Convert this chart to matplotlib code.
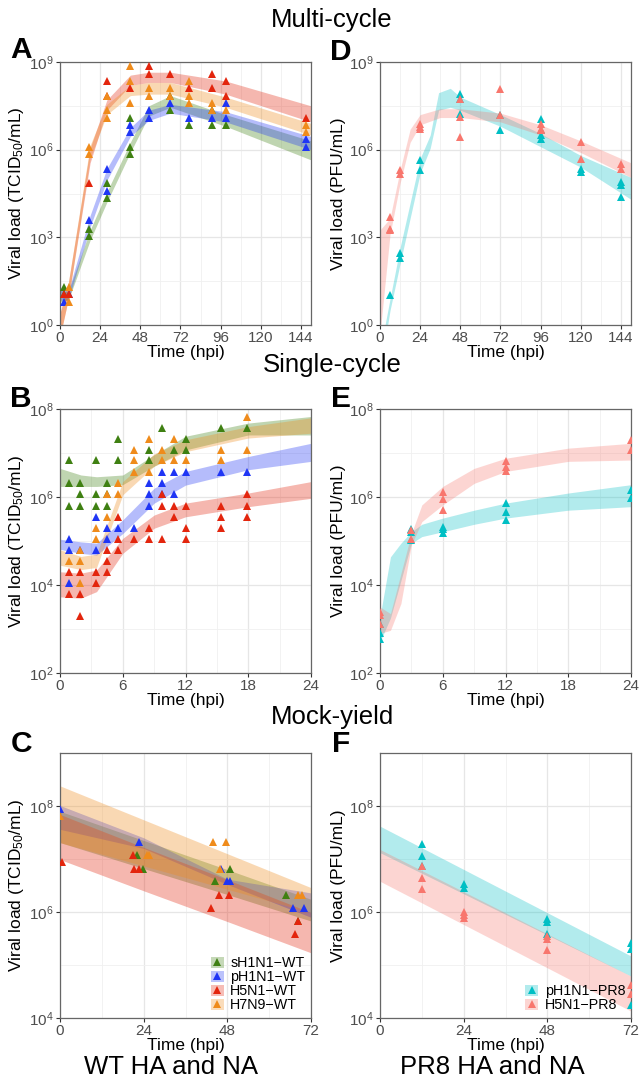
#!/usr/bin/env python3

import numpy as np
import matplotlib
matplotlib.use('Agg')
import matplotlib.pyplot as plt
from matplotlib.ticker import FixedLocator, NullFormatter
from matplotlib.patches import Patch
from matplotlib.lines import Line2D
from matplotlib.legend_handler import HandlerTuple

plt.rcParams['font.family'] = ['Liberation Sans', 'DejaVu Sans']
plt.rcParams['mathtext.fontset'] = 'custom'
plt.rcParams['mathtext.rm'] = 'Liberation Sans'
plt.rcParams['mathtext.it'] = 'Liberation Sans:italic'
plt.rcParams['mathtext.bf'] = 'Liberation Sans:bold'

# Colours (points, bands use the same with alpha).
COL = {'sH1N1': '#3f8012', 'pH1N1': '#1f35f5', 'H5N1': '#e3250d', 'H7N9': '#ef8b1b',
       'pH1N1-PR8': '#00BFC4', 'H5N1-PR8': '#F8766D'}

# ---- Panel A: multi-cycle, WT (log10 TCID50/mL) ----
a_sh1n1_t = [2.5, 2.5, 17.5, 17.5, 28, 28, 42, 42, 42, 66, 66, 77, 91, 91, 99]
a_sh1n1_v = [1.3, 1.05, 3.3, 3.05, 4.85, 4.35, 7.1, 6.1, 5.85, 7.35, 7.85, 6.85, 6.85, 7.35, 6.85]
a_ph1n1_t = [2.5, 5.5, 17.5, 28, 28, 42, 42, 53, 53, 66, 77, 91, 99, 99, 147, 147]
a_ph1n1_v = [0.8, 1.05, 3.6, 5.35, 4.6, 6.85, 6.6, 7.35, 7.1, 7.6, 7.1, 7.1, 7.6, 7.1, 6.35, 6.1]
a_h5n1_t = [2.5, 5.5, 17.5, 28, 28, 42, 53, 53, 66, 77, 91, 91, 99, 99, 147]
a_h5n1_v = [1.05, 1.05, 4.85, 8.35, 7.85, 8.1, 8.85, 8.6, 8.6, 8.1, 8.6, 8.1, 8.35, 7.85, 7.1]
a_h7n9_t = [5.5, 5.5, 17.5, 17.5, 28, 28, 28, 42, 42, 42, 53, 53, 66, 66, 77, 77, 77, 91, 91, 99, 147, 147]
a_h7n9_v = [1.3, 0.8, 6.1, 5.85, 7.85, 7.35, 7.1, 8.85, 8.35, 7.6, 8.1, 7.85, 8.1, 7.85, 8.35, 7.85, 7.6,
            7.6, 7.35, 7.35, 6.85, 6.6]

# model bands (log10 lower / upper at knots)
a_band_t = [0, 5, 18, 28, 42, 53, 66, 99, 150]
a_sh1n1_lo = [0.8, 0.85, 2.9, 4.2, 5.9, 7.15, 7.45, 6.8, 5.65]
a_sh1n1_hi = [1.2, 1.15, 3.25, 4.55, 6.25, 7.5, 7.85, 7.2, 6.3]
a_ph1n1_lo = [0.85, 0.85, 3.35, 4.95, 6.45, 7.0, 7.25, 6.95, 6.0]
a_ph1n1_hi = [1.25, 1.15, 3.75, 5.35, 6.75, 7.35, 7.55, 7.3, 6.45]
a_h5n1_lo = [-0.4, 0.9, 5.55, 7.35, 8.2, 8.3, 8.3, 7.9, 6.95]
a_h5n1_hi = [0.4, 1.45, 6.05, 7.7, 8.55, 8.65, 8.65, 8.35, 7.5]
a_h7n9_lo = [-0.4, 0.9, 5.7, 7.2, 7.85, 7.9, 7.9, 7.45, 6.5]
a_h7n9_hi = [0.4, 1.45, 6.15, 7.55, 8.2, 8.3, 8.3, 7.8, 6.9]

# ---- Panel D: multi-cycle, PR8 (log10 PFU/mL) ----
d_ph1n1_t = [6, 12, 12, 24, 24, 48, 48, 48, 72, 72, 96, 96, 96, 96, 120, 120, 144, 144, 144]
d_ph1n1_v = [1.03, 2.48, 2.28, 5.64, 5.3, 7.92, 7.75, 7.23, 7.18, 6.66, 7.06, 6.66, 6.49, 6.38,
             5.35, 5.24, 4.9, 4.78, 4.38]
d_h5n1_t = [6, 6, 6, 12, 12, 24, 24, 24, 48, 48, 48, 72, 72, 96, 96, 96, 120, 120, 144, 144]
d_h5n1_v = [3.7, 3.3, 3.25, 5.3, 5.18, 6.89, 6.78, 6.72, 7.75, 7.12, 6.43, 8.09, 7.18, 6.89, 6.72,
            6.66, 6.26, 5.69, 5.52, 5.35]
d_ph1n1_band_t = [0, 6, 12, 24, 30, 35, 42, 48, 72, 96, 120, 150]
d_ph1n1_lo = [-1.6, 0.5, 2.1, 5.2, 6.05, 7.35, 7.45, 7.35, 6.8, 6.1, 5.4, 4.3]
d_ph1n1_hi = [-0.9, 0.9, 2.65, 5.7, 6.5, 7.95, 8.1, 7.8, 7.2, 6.55, 5.8, 5.05]
d_h5n1_band_t = [0, 6, 12, 18, 24, 36, 48, 72, 96, 120, 150]
d_h5n1_lo = [-0.3, 3.1, 4.85, 6.25, 6.85, 7.1, 7.1, 6.95, 6.5, 5.9, 5.05]
d_h5n1_hi = [3.25, 3.65, 5.3, 6.7, 7.2, 7.4, 7.4, 7.25, 6.85, 6.3, 5.55]

# ---- Panel B: single-cycle, WT ----
b_sh1n1_t = [0.9, 0.9, 0.9, 1.9, 1.9, 1.9, 3.4, 3.4, 3.4, 4.5, 4.5, 4.5, 5.5, 5.5, 8.5, 8.5, 9.8,
             10.9, 12, 12, 15.4, 17.9]
b_sh1n1_v = [6.83, 6.31, 5.8, 6.31, 6.06, 5.8, 6.83, 6.06, 5.8, 6.31, 6.06, 5.8, 7.32, 6.83, 7.07,
             6.83, 7.57, 7.07, 7.32, 7.07, 7.57, 7.57]
b_ph1n1_t = [0.9, 0.9, 0.9, 1.9, 3.4, 3.4, 4.5, 4.5, 5.5, 7.1, 8.5, 8.5, 8.5, 9.8, 9.8, 9.8, 10.9,
             10.9, 12, 15.4, 17.9]
b_ph1n1_v = [5.04, 4.79, 4.05, 4.79, 5.55, 4.79, 5.3, 5.04, 5.3, 5.3, 6.31, 6.06, 5.8, 6.56, 6.31,
             6.06, 6.56, 6.06, 6.56, 6.56, 6.56]
b_h5n1_t = [0.9, 0.9, 1.9, 1.9, 1.9, 3.4, 3.4, 4.5, 4.5, 4.5, 5.5, 5.5, 5.5, 7.1, 8.5, 8.5, 9.8, 9.8,
            9.8, 10.9, 10.9, 12, 12, 12, 15.4, 15.4, 15.4, 17.9, 17.9, 17.9]
b_h5n1_v = [4.3, 3.79, 4.3, 3.79, 3.29, 4.3, 4.05, 4.79, 4.54, 4.3, 5.55, 5.04, 4.79, 5.04, 5.3, 5.04,
            6.06, 5.8, 5.04, 5.8, 5.55, 5.8, 5.3, 5.04, 5.8, 5.55, 5.3, 6.06, 5.8, 5.55]
b_h7n9_t = [0.9, 1.9, 1.9, 1.9, 3.4, 3.4, 4.5, 4.5, 5.5, 5.5, 7.1, 7.1, 7.1, 8.5, 8.5, 9.8, 9.8, 10.9,
            10.9, 12, 15.4, 15.4, 17.9, 17.9]
b_h7n9_v = [4.54, 4.79, 4.54, 4.05, 5.3, 5.04, 6.06, 5.55, 6.31, 6.06, 7.07, 6.83, 6.56, 7.32, 6.56,
            7.07, 6.83, 7.32, 6.83, 6.83, 7.07, 6.83, 7.81, 7.07]
b_band_t = [0, 2, 3.5, 6, 9, 12, 18, 24]
b_sh1n1_lo = [6.24, 6.24, 6.24, 6.28, 6.7, 7.07, 7.41, 7.41]
b_sh1n1_hi = [6.65, 6.5, 6.46, 6.5, 6.96, 7.38, 7.68, 7.83]
b_ph1n1_lo = [4.81, 4.72, 4.68, 5.17, 5.86, 6.27, 6.62, 6.81]
b_ph1n1_hi = [5.04, 4.98, 4.95, 5.48, 6.2, 6.58, 6.92, 7.22]
b_h5n1_lo = [3.73, 3.7, 3.85, 4.72, 5.29, 5.55, 5.78, 5.97]
b_h5n1_hi = [4.3, 4.27, 4.34, 5.06, 5.59, 5.86, 6.09, 6.35]
b_h7n9_lo = [4.45, 4.35, 4.4, 6.05, 6.7, 7.03, 7.34, 7.45]
b_h7n9_hi = [4.8, 4.65, 4.7, 6.35, 6.98, 7.3, 7.6, 7.8]

# ---- Panel E: single-cycle, PR8 ----
e_ph1n1_t = [0, 0, 0, 3, 3, 3, 6, 6, 6, 12, 12, 12, 24, 24]
e_ph1n1_v = [3.12, 2.9, 2.78, 5.27, 5.2, 5.02, 5.31, 5.28, 5.19, 5.87, 5.67, 5.48, 6.16, 5.97]
e_h5n1_t = [0, 0, 0, 3, 3, 6, 6, 6, 12, 12, 12, 24, 24]
e_h5n1_v = [3.39, 3.31, 3.12, 5.25, 5.04, 6.12, 5.95, 5.7, 6.81, 6.69, 6.6, 7.3, 7.07]
e_band_t = [0, 1, 2, 3, 4, 6, 9, 12, 18, 24]
e_ph1n1_lo = [2.71, 3.25, 4.1, 4.95, 5.1, 5.21, 5.38, 5.52, 5.7, 5.78]
e_ph1n1_hi = [3.28, 4.64, 4.95, 5.21, 5.38, 5.52, 5.7, 5.86, 6.09, 6.28]
e_h5n1_lo = [2.9, 2.97, 3.58, 4.91, 5.44, 5.82, 6.31, 6.58, 6.81, 6.84]
e_h5n1_hi = [3.5, 3.35, 4.26, 5.17, 5.82, 6.24, 6.65, 6.88, 7.11, 7.22]

# ---- Panel C: mock-yield, WT ----
c_sh1n1_t = [22, 23.9, 44.5, 48.9, 64.7, 68.4]
c_sh1n1_v = [7.07, 6.82, 6.58, 6.82, 6.32, 5.83]
c_ph1n1_t = [0, 22.8, 46.1, 47.8, 48.9, 66.7, 70]
c_ph1n1_v = [7.94, 7.33, 6.82, 6.58, 6.58, 6.07, 6.07]
c_h5n1_t = [0.6, 21, 21.3, 22.8, 43.2, 45.6, 48.6, 67.3, 68.2]
c_h5n1_v = [6.95, 7.07, 6.82, 6.82, 6.07, 6.32, 6.32, 5.58, 5.83]
c_h7n9_t = [0, 24.9, 25.6, 44, 47.6, 45.9, 68.4, 69.3]
c_h7n9_v = [7.82, 7.07, 7.07, 7.32, 7.32, 6.82, 6.32, 6.32]
c_band_t = [0, 24, 48, 72]
c_sh1n1_lo = [7.31, 6.82, 6.33, 5.83]
c_sh1n1_hi = [7.9, 7.35, 6.8, 6.24]
c_ph1n1_lo = [7.56, 7.2, 6.52, 5.9]
c_ph1n1_hi = [8.01, 7.4, 6.62, 6.36]
c_h5n1_lo = [6.99, 6.4, 5.82, 5.23]
c_h5n1_hi = [7.84, 7.22, 6.61, 5.99]
c_h7n9_lo = [7.31, 6.87, 6.43, 5.99]
c_h7n9_hi = [8.38, 7.74, 7.1, 6.46]

# ---- Panel F: mock-yield, PR8 ----
f_ph1n1_t = [12, 12, 12, 24, 24, 48, 48, 48, 72, 72, 72]
f_ph1n1_v = [7.28, 7.06, 6.87, 6.52, 6.46, 5.86, 5.81, 5.58, 5.42, 5.3, 4.24]
f_h5n1_t = [12, 12, 12, 24, 24, 24, 48, 48, 48, 72, 72]
f_h5n1_v = [6.87, 6.65, 6.43, 6.0, 5.94, 5.89, 5.55, 5.5, 5.28, 4.62, 4.45]
f_band_t = [0, 72]
f_ph1n1_lo = [7.12, 4.79]
f_ph1n1_hi = [7.62, 5.17]
f_h5n1_lo = [6.58, 4.13]
f_h5n1_hi = [7.18, 4.79]

W, H = 641, 1082
fig = plt.figure(figsize=(W / 100, H / 100), dpi=100)
MS = 5.8


def axes_px(left, top, right, bottom):
    return fig.add_axes([left / W, 1 - bottom / H, (right - left) / W, (bottom - top) / H])


def style(ax, xmax, xstep, ylo, yhi, ymaj, ylabel):
    ax.set_yscale('log')
    ax.set_xlim(0, xmax)
    ax.set_ylim(10.0 ** ylo, 10.0 ** yhi)
    ax.xaxis.set_major_locator(FixedLocator(np.arange(0, xmax + 1, xstep)))
    ax.xaxis.set_minor_locator(FixedLocator(np.arange(xstep / 2, xmax, xstep)))
    ax.yaxis.set_major_locator(FixedLocator([10.0 ** k for k in ymaj]))
    ax.set_yticklabels([r'$10^{%d}$' % k for k in ymaj])
    dk = ymaj[1] - ymaj[0]
    ax.yaxis.set_minor_locator(FixedLocator([10.0 ** (k + dk / 2) for k in ymaj]))
    ax.yaxis.set_minor_formatter(NullFormatter())
    ax.grid(True, which='major', color='#e6e6e6', lw=0.9)
    ax.grid(True, which='minor', color='#f0f0f0', lw=0.6)
    ax.set_axisbelow(True)
    for s in ax.spines.values():
        s.set_color('#666666')
        s.set_linewidth(0.9)
    ax.tick_params(which='major', length=3, color='#333333', labelcolor='#4d4d4d', labelsize=11, pad=1.5)
    ax.tick_params(which='minor', length=0)
    ax.set_xlabel('Time (hpi)', fontsize=12.5, labelpad=0)
    ax.set_ylabel(ylabel, fontsize=12.5, labelpad=2)


def band(ax, t, lo, hi, key, alpha=0.3):
    ax.fill_between(t, 10.0 ** np.array(lo), 10.0 ** np.array(hi), color=COL[key], alpha=alpha, lw=0, zorder=2)


def pts(ax, t, v, key):
    ax.plot(t, 10.0 ** np.array(v), ls='none', marker='^', ms=MS, color=COL[key], mew=0, zorder=3)


def legend(ax, keys, labels):
    handles = [(Patch(facecolor=COL[k], alpha=0.3, edgecolor='none'),
                Line2D([], [], ls='none', marker='^', ms=MS, mew=0, color=COL[k])) for k in keys]
    ax.legend(handles, labels, handler_map={tuple: HandlerTuple(ndivide=1)},
              loc='lower right', frameon=False, fontsize=10.3, handlelength=0.9, handleheight=0.85,
              handletextpad=0.45, labelspacing=0.0, borderaxespad=0.1, borderpad=0.3)


TCID = r'Viral load (TCID$_{50}$/mL)'
PFU = 'Viral load (PFU/mL)'

# Panel A
ax = axes_px(60, 62, 311, 325)
style(ax, 150, 24, 0, 9, [0, 3, 6, 9], TCID)
band(ax, a_band_t, a_sh1n1_lo, a_sh1n1_hi, 'sH1N1', 0.33)
band(ax, a_band_t, a_ph1n1_lo, a_ph1n1_hi, 'pH1N1', 0.33)
band(ax, a_band_t, a_h5n1_lo, a_h5n1_hi, 'H5N1', 0.33)
band(ax, a_band_t, a_h7n9_lo, a_h7n9_hi, 'H7N9', 0.33)
pts(ax, a_sh1n1_t, a_sh1n1_v, 'sH1N1')
pts(ax, a_ph1n1_t, a_ph1n1_v, 'pH1N1')
pts(ax, a_h5n1_t, a_h5n1_v, 'H5N1')
pts(ax, a_h7n9_t, a_h7n9_v, 'H7N9')

# Panel D
ax = axes_px(380, 62, 631, 325)
style(ax, 150, 24, 0, 9, [0, 3, 6, 9], PFU)
band(ax, d_ph1n1_band_t, d_ph1n1_lo, d_ph1n1_hi, 'pH1N1-PR8')
band(ax, d_h5n1_band_t, d_h5n1_lo, d_h5n1_hi, 'H5N1-PR8')
pts(ax, d_ph1n1_t, d_ph1n1_v, 'pH1N1-PR8')
pts(ax, d_h5n1_t, d_h5n1_v, 'H5N1-PR8')

# Panel B
ax = axes_px(60, 409, 311, 673)
style(ax, 24, 6, 2, 8, [2, 4, 6, 8], TCID)
band(ax, b_band_t, b_sh1n1_lo, b_sh1n1_hi, 'sH1N1', 0.33)
band(ax, b_band_t, b_ph1n1_lo, b_ph1n1_hi, 'pH1N1', 0.33)
band(ax, b_band_t, b_h5n1_lo, b_h5n1_hi, 'H5N1', 0.33)
band(ax, b_band_t, b_h7n9_lo, b_h7n9_hi, 'H7N9', 0.33)
pts(ax, b_sh1n1_t, b_sh1n1_v, 'sH1N1')
pts(ax, b_ph1n1_t, b_ph1n1_v, 'pH1N1')
pts(ax, b_h5n1_t, b_h5n1_v, 'H5N1')
pts(ax, b_h7n9_t, b_h7n9_v, 'H7N9')

# Panel E
ax = axes_px(380, 409, 631, 673)
style(ax, 24, 6, 2, 8, [2, 4, 6, 8], PFU)
band(ax, e_band_t, e_ph1n1_lo, e_ph1n1_hi, 'pH1N1-PR8')
band(ax, e_band_t, e_h5n1_lo, e_h5n1_hi, 'H5N1-PR8')
pts(ax, e_ph1n1_t, e_ph1n1_v, 'pH1N1-PR8')
pts(ax, e_h5n1_t, e_h5n1_v, 'H5N1-PR8')

# Panel C
ax = axes_px(60, 753, 311, 1018)
style(ax, 72, 24, 4, 9, [4, 6, 8], TCID)
band(ax, c_band_t, c_sh1n1_lo, c_sh1n1_hi, 'sH1N1', 0.33)
band(ax, c_band_t, c_ph1n1_lo, c_ph1n1_hi, 'pH1N1', 0.33)
band(ax, c_band_t, c_h5n1_lo, c_h5n1_hi, 'H5N1', 0.33)
band(ax, c_band_t, c_h7n9_lo, c_h7n9_hi, 'H7N9', 0.33)
pts(ax, c_sh1n1_t, c_sh1n1_v, 'sH1N1')
pts(ax, c_ph1n1_t, c_ph1n1_v, 'pH1N1')
pts(ax, c_h5n1_t, c_h5n1_v, 'H5N1')
pts(ax, c_h7n9_t, c_h7n9_v, 'H7N9')
keys = ['sH1N1', 'pH1N1', 'H5N1', 'H7N9']
legend(ax, keys, [k + '\u2212WT' for k in keys])

# Panel F
ax = axes_px(380, 753, 631, 1018)
style(ax, 72, 24, 4, 9, [4, 6, 8], PFU)
band(ax, f_band_t, f_ph1n1_lo, f_ph1n1_hi, 'pH1N1-PR8')
band(ax, f_band_t, f_h5n1_lo, f_h5n1_hi, 'H5N1-PR8')
pts(ax, f_ph1n1_t, f_ph1n1_v, 'pH1N1-PR8')
pts(ax, f_h5n1_t, f_h5n1_v, 'H5N1-PR8')
keys = ['pH1N1-PR8', 'H5N1-PR8']
legend(ax, keys, [k.replace('-', '\u2212') for k in keys])


def ftext(x, y, s, **kw):
    fig.text(x / W, 1 - y / H, s, ha='center', va='center', **kw)


ftext(332, 20, 'Multi-cycle', fontsize=18.5)
ftext(332, 365, 'Single-cycle', fontsize=18.5)
ftext(332, 717, 'Mock-yield', fontsize=18.5)
ftext(171, 1067, 'WT HA and NA', fontsize=18.5)
ftext(492, 1067, 'PR8 HA and NA', fontsize=18.5)
for letter, x, y in [('A', 21, 50), ('D', 341, 52), ('B', 21, 399), ('E', 341, 399),
                     ('C', 21, 744), ('F', 341, 744)]:
    ftext(x, y, letter, fontsize=21.5, fontweight='bold')

fig.savefig('out.png', dpi=100)
